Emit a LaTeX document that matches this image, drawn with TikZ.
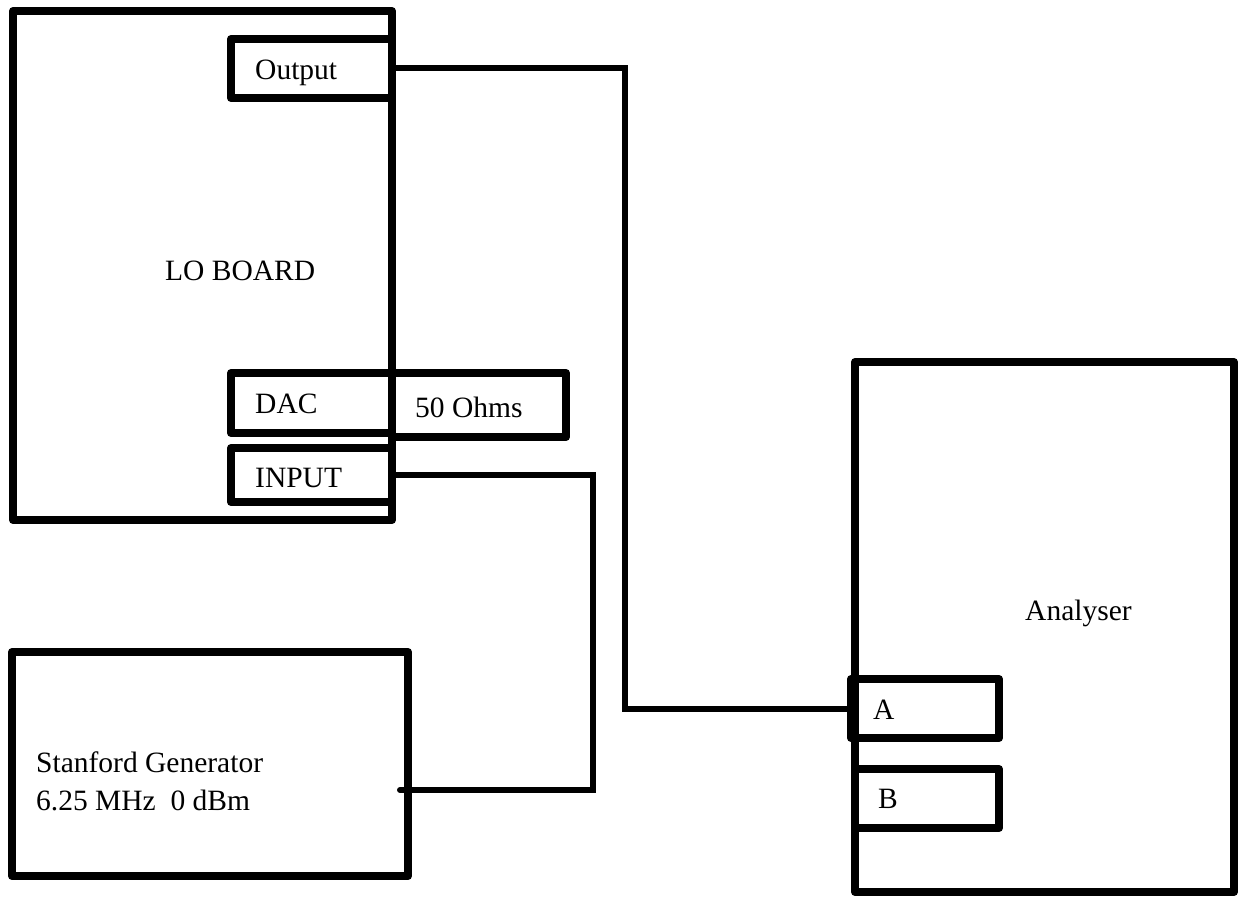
\documentclass[tikz,border=0pt]{standalone}
\usepackage{fontspec}
\setmainfont{Liberation Serif}
\usetikzlibrary{positioning}

\begin{document}
\begin{tikzpicture}[
  x=1pt, y=-1pt,
  font=\fontsize{29.5}{38}\selectfont,
  unit/.style={draw, line width=8pt, line join=round, inner sep=0pt, outer sep=0pt},
  wire/.style={line width=6pt},
  txt/.style={inner sep=0pt, anchor=base west, align=left}
]
\useasboundingbox (0,0) rectangle (1238,896);

% instruments
\node[unit, minimum width=379pt, minimum height=509pt] (board) at (202.5,265.5) {};
\node[unit, minimum width=396pt, minimum height=224pt] (gen) at (210,764) {};
\node[unit, minimum width=379pt, minimum height=530pt] (ana) at (1044.5,627) {};

% ports
\node[unit, minimum width=161pt, minimum height=59pt] (out) at (311.5,68.5) {};
\node[unit, minimum width=161pt, minimum height=60pt] (dac) at (311.5,403) {};
\node[unit, minimum width=174pt, minimum height=64pt] (ohm) at (479,405) {};
\node[unit, minimum width=161pt, minimum height=54pt] (inp) at (311.5,475) {};
\node[unit, minimum width=148pt, minimum height=59pt] (chA) at (925,708.5) {};
\node[unit, minimum width=144pt, minimum height=59pt] (chB) at (927,798.5) {};

% labels
\node[txt] (boardlbl) at (165,280) {LO BOARD};
\node[txt] (analbl) at (1025,620) {Analyser};
\node[txt] (genlbl) at (36,810) {Stanford Generator\\6.25 MHz\ \ 0 dBm};
\node[txt] (outlbl) at (255,80) {Output};
\node[txt] (daclbl) at (255,413) {DAC};
\node[txt] (ohmlbl) at (415,417) {50 Ohms};
\node[txt] (inplbl) at (255,487) {INPUT};
\node[txt] (albl) at (873,719) {A};
\node[txt] (blbl) at (878,808) {B};

% cables
\coordinate (genport) at (400,790);
\draw[wire] (out.east) -- ++(233,0) |- (chA.west);
\draw[wire, line cap=round] (inp.east) -- ++(201,0) |- (genport);
\end{tikzpicture}
\end{document}
